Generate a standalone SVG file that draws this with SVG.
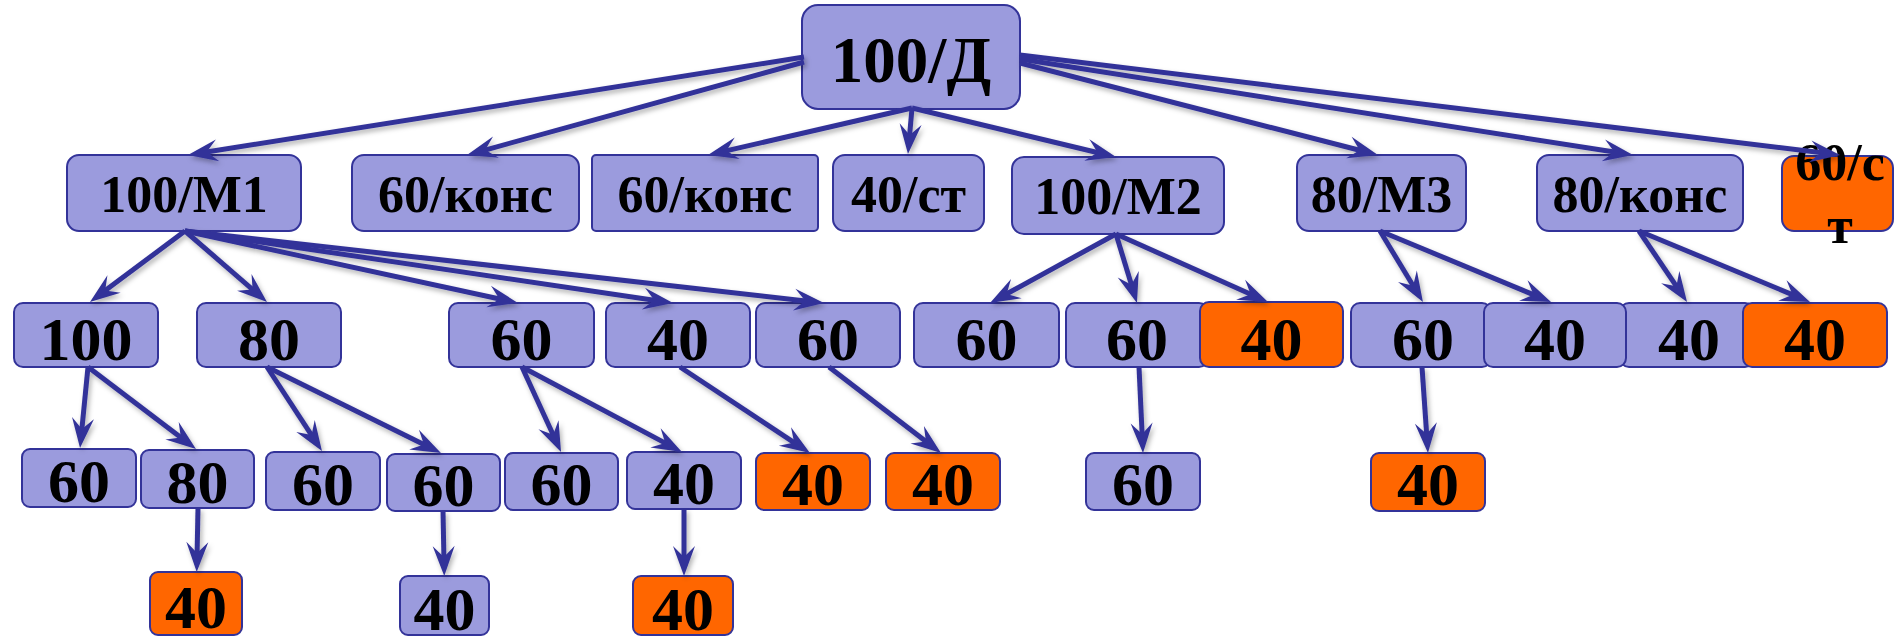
<svg xmlns="http://www.w3.org/2000/svg" width="1895" height="637" viewBox="0 0 1895 637">
<style>
.b{fill:#9B9BDD;stroke:#333399;stroke-width:2}
.o{fill:#FF6600;stroke:#333399;stroke-width:2}
text{font-family:"Liberation Serif","Times New Roman",serif;font-weight:bold;fill:#000;text-anchor:middle}
.t0{font-size:65px}
.t1{font-size:52px}
.t2{font-size:62px}
.c line{stroke:#333399;stroke-width:5;fill:none;marker-end:url(#ah)}
</style>
<defs>
<marker id="ah" markerUnits="userSpaceOnUse" viewBox="-17 -12 32 24" refX="0" refY="0" markerWidth="32" markerHeight="24" orient="auto">
<path d="M14,0 L-16,-11 L-5,0 L-16,11 Z" fill="#333399"/>
</marker>
<filter id="sh" x="-5%" y="-20%" width="110%" height="140%">
<feDropShadow dx="2" dy="3" stdDeviation="2.5" flood-color="#000" flood-opacity="0.3"/>
</filter>
</defs>
<g id="nodes">
<g id="root"><rect class="b" x="802" y="5" width="218" height="104" rx="16"/><text class="t0" x="911" y="82">100/Д</text></g>
<g id="m1"><rect class="b" x="67" y="155" width="234" height="76" rx="12"/><text class="t1" x="184" y="212">100/М1</text></g>
<g id="kons1"><rect class="b" x="352" y="155" width="227" height="76" rx="12"/><text class="t1" x="465.5" y="212">60/конс</text></g>
<g id="kons2"><rect class="b" x="592" y="155" width="226" height="76" rx="4"/><text class="t1" x="705" y="212">60/конс</text></g>
<g id="st1"><rect class="b" x="833" y="155" width="151" height="76" rx="12"/><text class="t1" x="908.5" y="212">40/ст</text></g>
<g id="m2"><rect class="b" x="1012" y="157" width="212" height="77" rx="12"/><text class="t1" x="1118" y="214">100/М2</text></g>
<g id="m3"><rect class="b" x="1297" y="155" width="169" height="76" rx="12"/><text class="t1" x="1381.5" y="212">80/М3</text></g>
<g id="kons3"><rect class="b" x="1537" y="155" width="206" height="76" rx="12"/><text class="t1" x="1640" y="212">80/конс</text></g>
<g id="st2"><rect class="o" x="1782" y="156" width="111" height="75" rx="12"/><text class="t1" x="1840" y="180">60/с</text><text class="t1" x="1840" y="243">т</text></g>

<g id="a1"><rect class="b" x="14" y="303" width="144" height="64" rx="9"/><text class="t2" x="86" y="360">100</text></g>
<g id="a2"><rect class="b" x="197" y="303" width="144" height="64" rx="9"/><text class="t2" x="269" y="360">80</text></g>
<g id="a3"><rect class="b" x="449" y="303" width="145" height="64" rx="9"/><text class="t2" x="521.5" y="360">60</text></g>
<g id="a4"><rect class="b" x="606" y="303" width="144" height="64" rx="9"/><text class="t2" x="678" y="360">40</text></g>
<g id="a5"><rect class="b" x="756" y="303" width="144" height="64" rx="9"/><text class="t2" x="828" y="360">60</text></g>
<g id="a6"><rect class="b" x="914" y="303" width="145" height="64" rx="9"/><text class="t2" x="986.5" y="360">60</text></g>
<g id="a7"><rect class="b" x="1066" y="303" width="142" height="64" rx="9"/><text class="t2" x="1137" y="360">60</text></g>
<g id="a8"><rect class="o" x="1200" y="302" width="143" height="65" rx="9"/><text class="t2" x="1271.5" y="360">40</text></g>
<g id="a9"><rect class="b" x="1351" y="303" width="140" height="64" rx="9"/><text class="t2" x="1423" y="360">60</text></g>
<g id="a11"><rect class="b" x="1620" y="303" width="134" height="64" rx="9"/><text class="t2" x="1689" y="360">40</text></g>
<g id="a10"><rect class="b" x="1484" y="303" width="142" height="64" rx="9"/><text class="t2" x="1555" y="360">40</text></g>
<g id="a12"><rect class="o" x="1743" y="303" width="144" height="64" rx="9"/><text class="t2" x="1815" y="360">40</text></g>

<g id="b1"><rect class="b" x="22" y="449" width="114" height="58" rx="8"/><text class="t2" x="79" y="502">60</text></g>
<g id="b2"><rect class="b" x="141" y="450" width="113" height="58" rx="8"/><text class="t2" x="197.5" y="503">80</text></g>
<g id="b3"><rect class="b" x="266" y="452" width="114" height="58" rx="8"/><text class="t2" x="323" y="505">60</text></g>
<g id="b4"><rect class="b" x="387" y="454" width="113" height="57" rx="8"/><text class="t2" x="443.5" y="506">60</text></g>
<g id="b5"><rect class="b" x="505" y="453" width="113" height="57" rx="8"/><text class="t2" x="561.5" y="505">60</text></g>
<g id="b6"><rect class="b" x="627" y="452" width="114" height="57" rx="8"/><text class="t2" x="684" y="504">40</text></g>
<g id="b7"><rect class="o" x="756" y="453" width="114" height="57" rx="8"/><text class="t2" x="813" y="505">40</text></g>
<g id="b8"><rect class="o" x="886" y="453" width="114" height="57" rx="8"/><text class="t2" x="943" y="505">40</text></g>
<g id="b9"><rect class="b" x="1086" y="453" width="114" height="57" rx="8"/><text class="t2" x="1143" y="505">60</text></g>
<g id="b10"><rect class="o" x="1371" y="453" width="114" height="58" rx="8"/><text class="t2" x="1428" y="505">40</text></g>

<g id="c1"><rect class="o" x="150" y="572" width="92" height="63" rx="8"/><text class="t2" x="196" y="628">40</text></g>
<g id="c2"><rect class="b" x="400" y="576" width="89" height="59" rx="8"/><text class="t2" x="444.5" y="630">40</text></g>
<g id="c3"><rect class="o" x="633" y="576" width="100" height="59" rx="8"/><text class="t2" x="683" y="630">40</text></g>
</g>
<g id="connectors" class="c" filter="url(#sh)">
<line x1="804" y1="57" x2="201.8" y2="152.8"/>
<line x1="804" y1="62" x2="480.5" y2="151.3"/>
<line x1="912" y1="108" x2="721.6" y2="151.9"/>
<line x1="912" y1="108" x2="909.2" y2="140.1"/>
<line x1="912" y1="108" x2="1102.4" y2="153.7"/>
<line x1="1020" y1="63" x2="1364.4" y2="151.5"/>
<line x1="1020" y1="59" x2="1619.2" y2="152.8"/>
<line x1="1020" y1="55" x2="1826.1" y2="153.3"/>
<line x1="185" y1="231" x2="101.2" y2="293.6"/>
<line x1="185" y1="231" x2="256.4" y2="292.8"/>
<line x1="185" y1="231" x2="504.3" y2="300"/>
<line x1="185" y1="231" x2="659.2" y2="301"/>
<line x1="185" y1="231" x2="810.1" y2="301.4"/>
<line x1="1116" y1="234" x2="1002.3" y2="296.3"/>
<line x1="1116" y1="234" x2="1132.9" y2="289.6"/>
<line x1="1116" y1="234" x2="1255.2" y2="296.3"/>
<line x1="1380" y1="231" x2="1415.7" y2="290"/>
<line x1="1380" y1="231" x2="1538.1" y2="296.6"/>
<line x1="1639" y1="231" x2="1679.2" y2="290.4"/>
<line x1="1639" y1="231" x2="1797.1" y2="296.6"/>
<line x1="88" y1="367" x2="81.4" y2="434.1"/>
<line x1="88" y1="367" x2="184.8" y2="440.5"/>
<line x1="267" y1="367" x2="314.3" y2="439.3"/>
<line x1="267" y1="367" x2="428.4" y2="446.8"/>
<line x1="522" y1="367" x2="555.2" y2="439.3"/>
<line x1="522" y1="367" x2="669.6" y2="445.4"/>
<line x1="680" y1="367" x2="798.3" y2="445.3"/>
<line x1="829" y1="367" x2="929.9" y2="444.5"/>
<line x1="1139" y1="367" x2="1142.35" y2="439"/>
<line x1="1422" y1="367" x2="1427" y2="439"/>
<line x1="198" y1="508" x2="197" y2="558"/>
<line x1="443" y1="511" x2="444" y2="562"/>
<line x1="684" y1="509" x2="684" y2="562"/>
</g>
</svg>
